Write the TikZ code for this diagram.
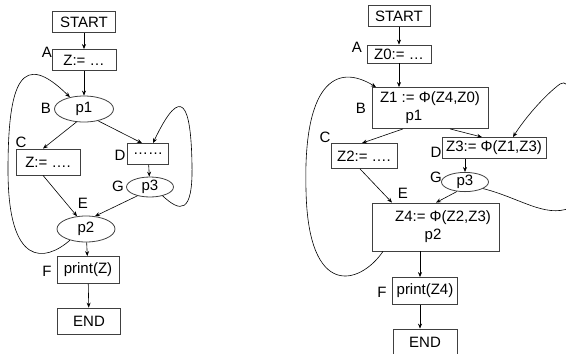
\documentclass[tikz,border=0pt]{standalone}
\usepackage{fontspec}
\setmainfont{Liberation Sans}
\usetikzlibrary{arrows.meta,shapes.geometric}

\begin{document}
\begin{tikzpicture}[x=1pt,y=-1pt,
 font=\fontsize{15}{18}\selectfont,
 blk/.style={draw=black!75,line width=0.8pt,inner sep=0pt,align=center},
 cond/.style={ellipse,draw=black!75,line width=0.8pt,inner sep=0pt},
 tag/.style={inner sep=0pt},
 flow/.style={-{Stealth[length=5pt,width=4pt]},line width=0.6pt}]
\useasboundingbox (0,0) rectangle (566,354);
% plain program
\node[blk,minimum width=63pt,minimum height=21pt] (s1) at (84,22) {START};
\node[blk,minimum width=64pt,minimum height=21pt] (a1) at (84,60) {Z:= …};
\node[cond,minimum width=59pt,minimum height=26pt] (b1) at (84,109) {p1};
\node[blk,minimum width=64pt,minimum height=26pt] (c1) at (48,162) {Z:= ….};
\node[blk,minimum width=41pt,minimum height=21pt] (d1) at (148,154) {……};
\node[cond,minimum width=47pt,minimum height=20pt] (g1) at (150,187) {p3};
\node[cond,minimum width=58pt,minimum height=26pt] (e1) at (86,229) {p2};
\node[blk,minimum width=62pt,minimum height=27pt] (f1) at (88,270) {print(Z)};
\node[blk,minimum width=63pt,minimum height=26pt] (end1) at (89,321) {END};
\node[tag] (la1) at (47,52) {A};
\node[tag] (lb1) at (46,108) {B};
\node[tag] (lc1) at (21,142) {C};
\node[tag] (ld1) at (120,155) {D};
\node[tag] (lg1) at (118,186) {G};
\node[tag] (le1) at (83,203) {E};
\node[tag] (lf1) at (47,271) {F};
\draw[flow] (s1)--(a1); \draw[flow] (a1)--(b1);
\draw[flow] (b1.240)--([xshift=-5pt]c1.north);
\draw[flow] (b1.-40)--([xshift=-6pt]d1.north);
\draw[flow] (d1)--(g1);
\draw[flow] ([xshift=-5pt]c1.south)--(e1.125);
\draw[flow] (g1.215)--(e1.55);
\draw[flow] (e1)--(f1); \draw[flow] (f1)--(end1);
\draw[flow] (e1.215) .. controls (45,262) and (8,268) .. (8,170)
 .. controls (8,80) and (22,50) .. (b1.140);
\draw[flow] (g1.-35) .. controls (180,212) and (193,215) .. (192,165)
 .. controls (191,105) and (182,82) .. ([xshift=5pt]d1.north);
% SSA form
\node[blk,minimum width=62pt,minimum height=21pt] (s2) at (399,16) {START};
\node[blk,minimum width=64pt,minimum height=18pt] (a2) at (399,54) {Z0:= …};
\node[blk,minimum width=116pt,minimum height=41pt] (b2) at (430,108) {Z1 := Φ(Z4,Z0)\\\hspace*{-32pt}p1};
\node[blk,minimum width=66pt,minimum height=25pt] (c2) at (364,156) {Z2:= ….};
\node[blk,minimum width=104pt,minimum height=21pt] (d2) at (494,148) {Z3:= Φ(Z1,Z3)};
\node[cond,minimum width=47pt,minimum height=18pt] (g2) at (465,182) {p3};
\node[blk,minimum width=127pt,minimum height=48pt] (e2) at (436,227) {\hspace*{14pt}Z4:= Φ(Z2,Z3)\\\hspace*{-6pt}p2};
\node[blk,minimum width=65pt,minimum height=27pt] (f2) at (425,291) {print(Z4)};
\node[blk,minimum width=64pt,minimum height=26pt] (end2) at (425,342) {END};
\node[tag] (la2) at (357,47) {A};
\node[tag] (lb2) at (361,108) {B};
\node[tag] (lc2) at (325,137) {C};
\node[tag] (ld2) at (436,152) {D};
\node[tag] (lg2) at (436,177) {G};
\node[tag] (le2) at (403,193) {E};
\node[tag] (lf2) at (382,292) {F};
\draw[flow] (s2)--(a2); \draw[flow] (a2)--(a2 |- b2.north);
\draw[flow] ([xshift=-27pt]b2.south)--([xshift=-2pt]c2.north);
\draw[flow] ([xshift=20pt]b2.south)--([xshift=-12pt]d2.north);
\draw[flow] (g2 |- d2.south)--(g2);
\draw[flow] ([xshift=-4pt]c2.south)--([xshift=-44pt]e2.north);
\draw[flow] (g2.230)--(e2.north);
\draw[flow] ([xshift=-5pt]f2.north |- e2.south)--([xshift=-5pt]f2.north);
\draw[flow] ([xshift=-5pt]f2.south)--([xshift=-5pt]end2.north);
\draw[flow] ([xshift=-53pt]e2.south) .. controls (360,285) and (308,300) .. (306,190)
 .. controls (303,85) and (335,62) .. ([xshift=-54pt]b2.north);
\draw[flow] (g2.-20) .. controls (520,198) and (545,218) .. (570,208)
 .. controls (590,190) and (580,70) .. (560,84)
 .. controls (545,95) and (525,118) .. ([xshift=19pt]d2.north);
\end{tikzpicture}
\end{document}
